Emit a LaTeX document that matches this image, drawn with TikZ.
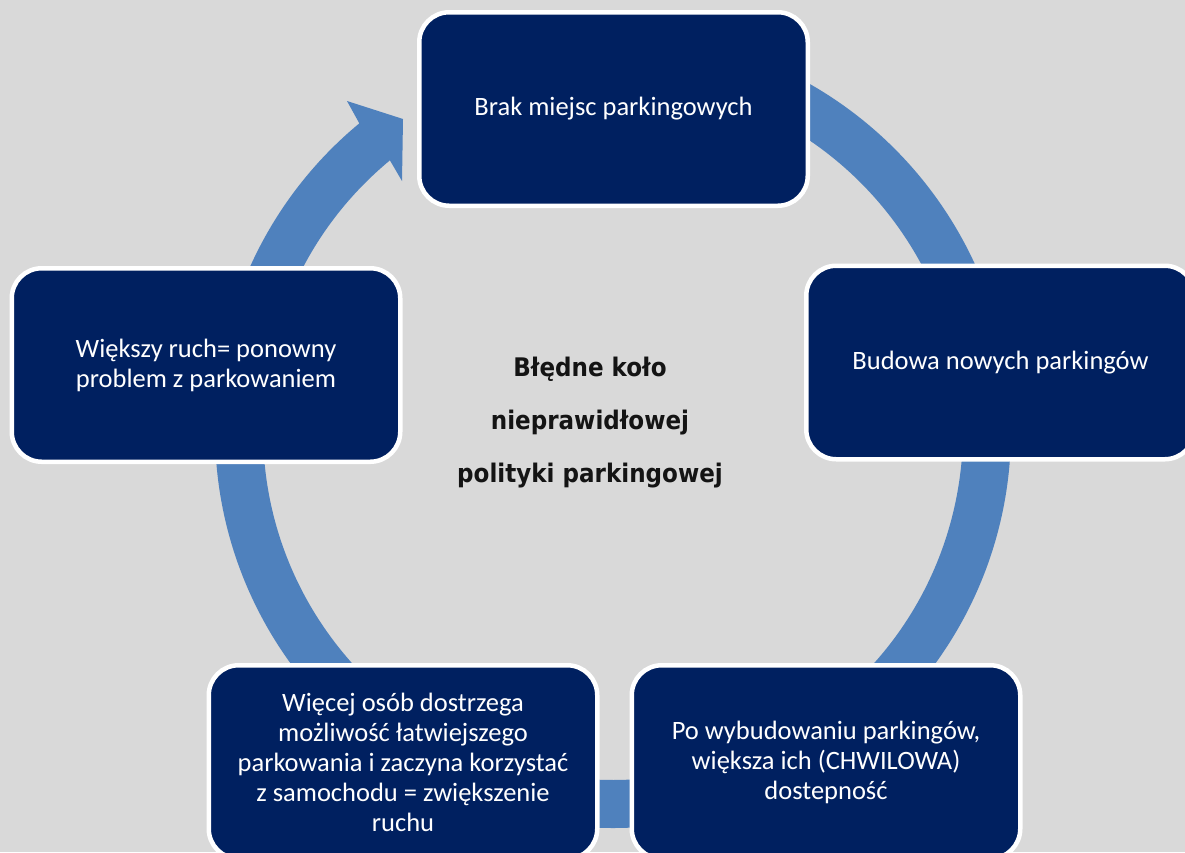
\documentclass[tikz,border=0pt]{standalone}
\usepackage{fontspec}
\newfontfamily\boxfont{Carlito}
\newfontfamily\ctrfont{DejaVu Sans}[FakeStretch=0.9]
\definecolor{bg}{HTML}{D9D9D9}
\definecolor{navy}{HTML}{002060}
\definecolor{ringblue}{HTML}{4F81BD}
\begin{document}
\begin{tikzpicture}[x=1pt,y=-1pt,
  card/.style={draw=white, line width=4.5pt, fill=navy, rounded corners=30pt,
    text=white, font=\boxfont\fontsize{26.5}{30}\selectfont, align=center,
    minimum width=388.5pt, minimum height=193.5pt, inner sep=0pt},
  ctr/.style={text=black!92, font=\ctrfont\bfseries\fontsize{25.6}{53}\selectfont, align=center, inner sep=0pt}]
\useasboundingbox (0,0) rectangle (1185,852);
\clip (0,0) rectangle (1185,852);
\fill[bg] (0,0) rectangle (1185,852);
% circular arrow
\coordinate (c) at (613,430);
\fill[ringblue] ([shift={(c)}]-90:398) arc[start angle=-90, end angle=230.4, radius=398]
  -- (347,101) -- (403,119) -- (402,181)
  -- ([shift={(c)}]230.4:350) arc[start angle=230.4, end angle=-90, radius=350] -- cycle;
% boxes
\node[card] (top) at (613.5,109) {Brak miejsc parkingowych};
\node[card] (right) at (1000.5,362.5) {Budowa nowych parkingów};
\node[card] (br) at (826,762) {Po wybudowaniu parkingów,\\ większa ich (CHWILOWA)\\ dostepność};
\node[card] (bl) at (403,762) {Więcej osób dostrzega\\ możliwość łatwiejszego\\ parkowania i zaczyna korzystać\\ z samochodu = zwiększenie\\ ruchu};
\node[card] (left) at (206,365) {Większy ruch= ponowny\\ problem z parkowaniem};
% centre title
\node[ctr] (title) at (590,423) {Błędne koło\\ nieprawidłowej\\ polityki parkingowej};
\end{tikzpicture}
\end{document}
